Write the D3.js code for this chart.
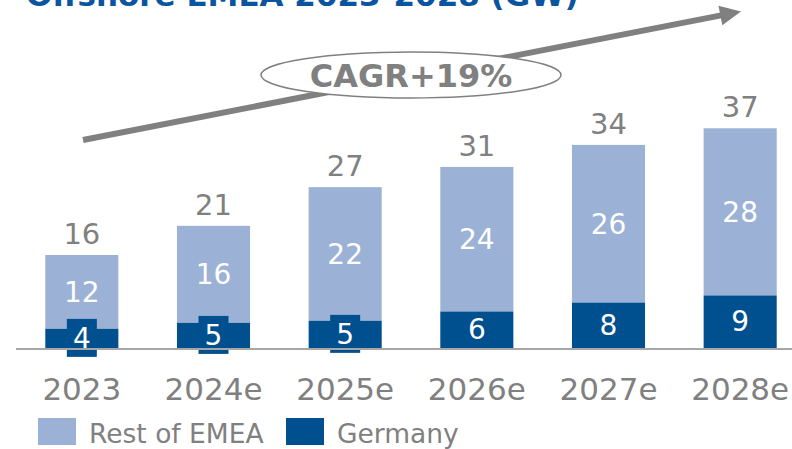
<!DOCTYPE html>
<html>
<head>
<meta charset="utf-8">
<script src="https://cdn.jsdelivr.net/npm/d3@7"></script>
<style>
  body { margin: 0; background: #fff; }
  svg { display: block; font-family: "DejaVu Sans", sans-serif; }
</style>
</head>
<body>
<svg width="792" height="449"></svg>
<script>
// chart data (GW)
var years = ["2023", "2024e", "2025e", "2026e", "2027e", "2028e"];
var germany = [3.4, 4.4, 4.75, 6.3, 7.8, 9.0];
var restOfEmea = [12.4, 16.3, 22.45, 24.3, 26.5, 28.1];
var germanyLabels = ["4", "5", "5", "6", "8", "9"];
var restLabels = ["12", "16", "22", "24", "26", "28"];
var totalLabels = ["16", "21", "27", "31", "34", "37"];
var seriesNames = ["Rest of EMEA", "Germany"];

var lightBlue = "#9bb2d6";
var darkBlue = "#00508f";
var grey = "#808080";

var svg = d3.select("svg");

var data = years.map(function (y, i) {
    return { year: y, de: germany[i], rest: restOfEmea[i],
             deLabel: germanyLabels[i], restLabel: restLabels[i], totLabel: totalLabels[i] };
});

var x = d3.scaleBand()
    .domain(years)
    .range([16, 806])
    .paddingInner(0.445)
    .paddingOuter(0.2225);

var y = d3.scaleLinear()
    .domain([0, 40])
    .range([349, 349 - 40 * 5.95]);

// title (cut off at the top, as in the source)
svg.append("text")
    .attr("x", 26)
    .attr("y", 6)
    .attr("font-size", 31)
    .attr("font-weight", "bold")
    .attr("fill", "#0a54a0")
    .text("Offshore EMEA 2023-2028 (GW)");

// growth arrow
var a0 = [83, 140], tip = [741, 11.5];
var len = Math.hypot(tip[0] - a0[0], tip[1] - a0[1]);
var ux = (tip[0] - a0[0]) / len, uy = (tip[1] - a0[1]) / len;
var headLen = 21, headW = 10;
var bx = tip[0] - headLen * ux, by = tip[1] - headLen * uy;
svg.append("line")
    .attr("x1", a0[0]).attr("y1", a0[1])
    .attr("x2", bx + 2 * ux).attr("y2", by + 2 * uy)
    .attr("stroke", grey)
    .attr("stroke-width", 6);
svg.append("polygon")
    .attr("points", [[tip[0], tip[1]],
                     [bx - headW * uy, by + headW * ux],
                     [bx + headW * uy, by - headW * ux]].join(" "))
    .attr("fill", grey);

svg.append("ellipse")
    .attr("cx", 411).attr("cy", 75)
    .attr("rx", 150).attr("ry", 23)
    .attr("fill", "#fff")
    .attr("stroke", grey)
    .attr("stroke-width", 1.5);
svg.append("text")
    .attr("x", 411).attr("y", 87)
    .attr("text-anchor", "middle")
    .attr("font-size", 32)
    .attr("font-weight", "bold")
    .attr("fill", grey)
    .text("CAGR+19%");

// bars
var bars = svg.append("g").selectAll("g")
    .data(data)
    .enter().append("g");

bars.append("rect")
    .attr("x", function (d) { return x(d.year); })
    .attr("width", x.bandwidth())
    .attr("y", function (d) { return y(d.de + d.rest); })
    .attr("height", function (d) { return y(d.de) - y(d.de + d.rest); })
    .attr("fill", lightBlue);

bars.append("rect")
    .attr("x", function (d) { return x(d.year); })
    .attr("width", x.bandwidth())
    .attr("y", function (d) { return y(d.de); })
    .attr("height", function (d) { return y(0) - y(d.de); })
    .attr("fill", darkBlue);

// axis line
svg.append("line")
    .attr("x1", 16).attr("x2", 792)
    .attr("y1", y(0)).attr("y2", y(0))
    .attr("stroke", "#a6a6a6")
    .attr("stroke-width", 2);

// germany labels (with a box when the segment is small)
bars.each(function (d) {
    var g = d3.select(this);
    var cx = x(d.year) + x.bandwidth() / 2;
    var cy = (y(0) + y(d.de)) / 2 - 1;
    if (y(0) - y(d.de) < 34) {
        g.append("rect")
            .attr("x", cx - 15).attr("y", cy - 19)
            .attr("width", 30).attr("height", 38)
            .attr("fill", darkBlue);
    }
    g.append("text")
        .attr("x", cx).attr("y", cy)
        .attr("dy", "0.36em")
        .attr("text-anchor", "middle")
        .attr("font-size", 28)
        .attr("fill", "#fff")
        .text(d.deLabel);
});

bars.append("text")
    .attr("x", function (d) { return x(d.year) + x.bandwidth() / 2; })
    .attr("y", function (d) { return (y(d.de) + y(d.de + d.rest)) / 2; })
    .attr("dy", "0.36em")
    .attr("text-anchor", "middle")
    .attr("font-size", 28)
    .attr("fill", "#fff")
    .text(function (d) { return d.restLabel; });

bars.append("text")
    .attr("x", function (d) { return x(d.year) + x.bandwidth() / 2; })
    .attr("y", function (d) { return y(d.de + d.rest) - 11; })
    .attr("text-anchor", "middle")
    .attr("font-size", 29)
    .attr("fill", grey)
    .text(function (d) { return d.totLabel; });

// category labels
var xAxis = d3.axisBottom(x).tickSize(0).tickPadding(0);
var axisG = svg.append("g")
    .attr("transform", "translate(0," + y(0) + ")")
    .call(xAxis);
axisG.select(".domain").remove();
axisG.selectAll("text")
    .attr("y", 51)
    .attr("dy", 0)
    .attr("font-family", "DejaVu Sans, sans-serif")
    .attr("font-size", 31)
    .attr("fill", grey);

// legend
var legendX = [38, 286];
var legendColors = [lightBlue, darkBlue];
var legend = svg.append("g").selectAll("g")
    .data(seriesNames)
    .enter().append("g")
    .attr("transform", function (d, i) { return "translate(" + legendX[i] + ",418)"; });
legend.append("rect")
    .attr("width", 38).attr("height", 27)
    .attr("fill", function (d, i) { return legendColors[i]; });
legend.append("text")
    .attr("x", 51).attr("y", 25)
    .attr("font-size", 26.5)
    .attr("fill", grey)
    .text(function (d) { return d; });
</script>
</body>
</html>
